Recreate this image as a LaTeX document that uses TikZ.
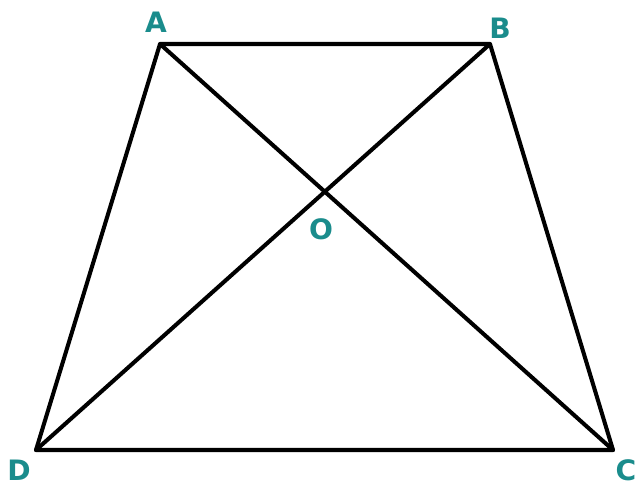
\documentclass[tikz,border=0pt]{standalone}
\usepackage{fontspec}
\setsansfont{DejaVu Sans}
\usepackage{xcolor}
\usetikzlibrary{calc}
\definecolor{labelteal}{HTML}{1A8C8C}
\tikzset{
  edge/.style={line width=2.3pt, black, line cap=round, line join=round},
  vlabel/.style={font=\sffamily\bfseries\fontsize{16}{18}\selectfont, text=labelteal, inner sep=0pt}
}

\begin{document}
\begin{tikzpicture}[x=0.02cm, y=-0.02cm]
  \useasboundingbox (0,0) rectangle (640,492);
  % vertices of the trapezium
  \coordinate (A) at (160,44);
  \coordinate (B) at (490,44);
  \coordinate (C) at (613,450);
  \coordinate (D) at (36,450);
  \coordinate (O) at (intersection of A--C and B--D);
  % sides and diagonals
  \draw[edge] (A) -- (B) -- (C) -- (D) -- cycle;
  \draw[edge] (A) -- (C);
  \draw[edge] (B) -- (D);
  % labels
  \node[vlabel] (lA) at (156,22) {A};
  \node[vlabel] (lB) at (500,28) {B};
  \node[vlabel] (lO) at (321,229) {O};
  \node[vlabel] (lD) at (19,470) {D};
  \node[vlabel] (lC) at (626,470) {C};
\end{tikzpicture}
\end{document}
